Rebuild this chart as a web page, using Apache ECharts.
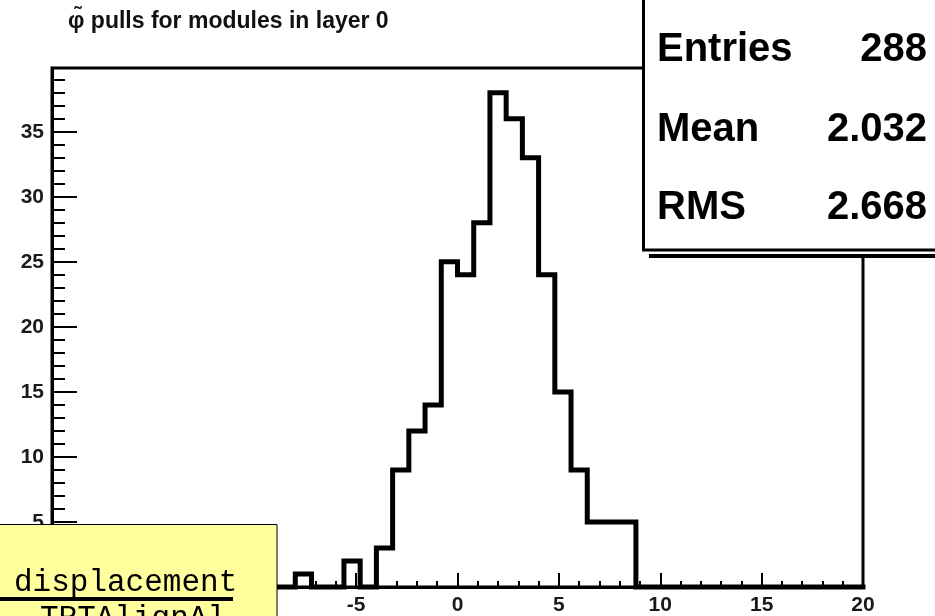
<!DOCTYPE html>
<html>
<head>
<meta charset="utf-8">
<script src="https://cdn.jsdelivr.net/npm/echarts@6/dist/echarts.min.js"></script>
<style>
html,body{margin:0;padding:0;background:#fff;}
#chart{width:935px;height:616px;}
</style>
</head>
<body>
<div id="chart"></div>
<script>
// ---- data ----
const titleText = "\u03C6\u0303 pulls for modules in layer 0";
const binEdges = [-20,-19.2,-18.4,-17.6,-16.8,-16,-15.2,-14.4,-13.6,-12.8,-12,-11.2,-10.4,-9.6,-8.8,-8,-7.2,-6.4,-5.6,-4.8,-4,-3.2,-2.4,-1.6,-0.8,0,0.8,1.6,2.4,3.2,4,4.8,5.6,6.4,7.2,8,8.8,9.6,10.4,11.2,12,12.8,13.6,14.4,15.2,16,16.8,17.6,18.4,19.2,20];
const binCounts = [0,0,0,0,0,0,0,0,0,0,0,0,0,0,0,1,0,0,2,0,3,9,12,14,25,24,28,38,36,33,24,15,9,5,5,5,0,0,0,0,0,0,0,0,0,0,0,0,0,0];
const statLabels = ["Entries","Mean","RMS"];
const statValues = ["288","2.032","2.668"];
const noteLines = ["displacement","TRTAlignAl"];

// build step data: left edge -> count, plus final right edge
const stepData = binCounts.map((c,i)=>[binEdges[i],c]);
stepData.push([binEdges[binEdges.length-1], binCounts[binCounts.length-1]]);

const chart = echarts.init(document.getElementById('chart'), null, {renderer:'canvas'});
const labelFont = {fontFamily:'Liberation Sans', fontWeight:'bold', fontSize:21, color:'#1a1a1a'};

const statRowsY = [50,130,208];
const graphics = [
  // stats box shadow
  {type:'rect', z:100, shape:{x:649,y:-10,width:320,height:268}, style:{fill:'#000'}},
  {type:'rect', z:101, shape:{x:642,y:-10,width:320,height:264}, style:{fill:'#fff'}},
  {type:'rect', z:102, shape:{x:643.5,y:-10,width:320,height:260}, style:{fill:'#fff',stroke:'#000',lineWidth:3}},
  // note box
  {type:'rect', z:110, shape:{x:-5,y:524.5,width:282,height:120}, style:{fill:'#ffff9e',stroke:'#000',lineWidth:1}},
  {type:'text', z:111, style:{x:14,y:583,text:noteLines[0],font:'31px "Liberation Mono"',fill:'#000',verticalAlign:'middle'}},
  {type:'rect', z:111, shape:{x:0,y:597,width:233,height:4}, style:{fill:'#000'}},
  {type:'text', z:111, style:{x:40,y:603,text:noteLines[1],font:'31px "Liberation Mono"',fill:'#000',verticalAlign:'top'}},
  // title
  {type:'text', z:50, style:{x:68,y:22,text:titleText,font:'bold 23px "Liberation Sans"',fill:'#111',verticalAlign:'middle'}}
];
statLabels.forEach((s,i)=>{
  graphics.push({type:'text', z:103, style:{x:657,y:statRowsY[i],text:s,font:'bold 40px "Liberation Sans"',fill:'#000',verticalAlign:'middle'}});
  graphics.push({type:'text', z:103, style:{x:927,y:statRowsY[i],text:statValues[i],font:'bold 40px "Liberation Sans"',fill:'#000',align:'right',verticalAlign:'middle'}});
});

chart.setOption({
  animation:false,
  backgroundColor:'#fff',
  grid:{left:52, top:68, right:72, bottom:29, show:true, borderColor:'#000', borderWidth:3, backgroundColor:'transparent'},
  xAxis:{
    type:'value', min:-20, max:20, interval:5,
    axisLine:{show:true, onZero:false, lineStyle:{color:'#000', width:3}},
    axisTick:{show:true, inside:true, length:14, lineStyle:{color:'#000', width:2}},
    minorTick:{show:true, splitNumber:5, length:6, lineStyle:{color:'#000', width:2}},
    splitLine:{show:false},
    axisLabel:Object.assign({margin:8}, labelFont)
  },
  yAxis:{
    type:'value', min:0, max:39.9, interval:5,
    axisLine:{show:true, onZero:false, lineStyle:{color:'#000', width:3}},
    axisTick:{show:true, inside:true, length:25, lineStyle:{color:'#000', width:2}},
    minorTick:{show:true, splitNumber:5, length:13, lineStyle:{color:'#000', width:2}},
    splitLine:{show:false},
    axisLabel:Object.assign({margin:8, showMaxLabel:false, formatter:function(v){return (v%5===0)?String(v):'';}}, labelFont)
  },
  series:[{
    type:'line', step:'end', data:stepData, symbol:'none', clip:false,
    lineStyle:{color:'#000', width:5, join:'miter', cap:'square'}, z:5
  }],
  graphic:graphics
});
</script>
</body>
</html>
